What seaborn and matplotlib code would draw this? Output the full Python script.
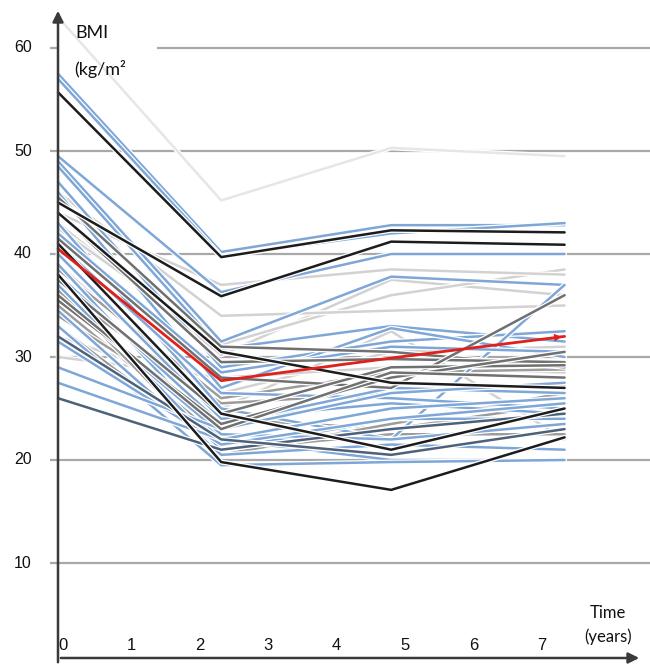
import numpy as np
import pandas as pd
import matplotlib
matplotlib.use("Agg")
import matplotlib.pyplot as plt
import matplotlib.patheffects as pe
import seaborn as sns

# time points of the visits (years)
times = [0, 2.4, 4.9, 7.45]

# BMI trajectories per patient, grouped by line colour
black_lines = [
    [55.7, 39.7, 42.3, 42.1],
    [45.0, 35.9, 41.2, 40.9],
    [44.0, 30.5, 27.5, 27.0],
    [38.0, 19.8, 17.1, 22.2],
    [41.0, 24.5, 21.0, 25.0],
]
blue_lines = [
    [57.5, 40.2, 42.8, 42.8],
    [57.0, 39.8, 42.0, 43.0],
    [49.5, 36.3, 40.0, 40.0],
    [49.0, 31.5, 37.8, 37.0],
    [48.5, 30.8, 33.0, 31.5],
    [47.0, 29.0, 31.5, 32.5],
    [46.0, 27.0, 32.8, 30.0],
    [43.0, 25.0, 22.0, 37.0],
    [42.0, 28.5, 31.0, 30.5],
    [41.0, 26.5, 26.0, 25.0],
    [40.0, 24.0, 25.5, 24.5],
    [39.0, 22.0, 20.0, 20.0],
    [38.0, 23.5, 27.0, 26.5],
    [37.0, 21.0, 24.0, 24.0],
    [36.0, 22.5, 22.0, 23.5],
    [34.5, 20.5, 21.5, 21.0],
    [33.0, 19.5, 19.8, 20.0],
    [31.5, 21.5, 24.0, 25.5],
    [29.0, 23.0, 26.5, 27.5],
    [27.5, 22.0, 25.0, 26.0],
]
slate_lines = [
    [26.0, 21.0, 23.0, 24.5],
    [32.0, 22.0, 20.5, 23.0],
]
darkgray_lines = [
    [45.5, 31.0, 30.5, 29.0],
    [44.0, 29.5, 29.8, 29.5],
    [41.5, 28.0, 27.0, 36.0],
    [37.5, 24.5, 29.0, 29.2],
    [35.5, 23.5, 28.0, 30.5],
    [36.0, 23.0, 28.5, 28.0],
]
gray_lines = [
    [38.5, 26.0, 28.5, 28.8],
    [36.5, 25.5, 26.5, 27.3],
    [35.0, 22.0, 25.0, 26.0],
    [34.0, 24.0, 23.0, 25.5],
    [33.0, 21.0, 22.5, 22.5],
    [36.5, 20.5, 23.5, 26.5],
]
lightgray_lines = [
    [43.0, 30.2, 37.5, 36.0],
    [42.5, 31.2, 36.0, 38.5],
    [46.0, 34.0, 34.5, 35.0],
    [44.0, 37.0, 38.5, 38.0],
    [39.0, 25.0, 32.5, 22.0],
    [32.0, 26.5, 30.5, 31.0],
    [30.0, 28.0, 29.0, 28.5],
]
faint_lines = [
    [63.0, 45.2, 50.3, 49.5],
]
mean_line = [40.5, 27.7, 29.9, 32.0]

y_ticks = [10, 20, 30, 40, 50, 60]
x_ticks = [0, 1, 2, 3, 4, 5, 6, 7]

groups = [
    (faint_lines, "#e6e6e6"),
    (lightgray_lines, "#d2d2d2"),
    (gray_lines, "#9c9c9c"),
    (blue_lines, "#7ea7d8"),
    (darkgray_lines, "#707070"),
    (slate_lines, "#4d6178"),
    (black_lines, "#1c1c1c"),
]

rows = []
palette = {}
pid = 0
for lines, col in groups:
    for vals in lines:
        for t, v in zip(times, vals):
            rows.append({"pid": pid, "time": t, "bmi": v})
        palette[pid] = col
        pid += 1
df = pd.DataFrame(rows)

# pixel -> data helpers (picture is 650 x 665)
def px_x(x):
    return (x - 58) / 68.0

def px_y(y):
    return 60 - (y - 48) / 10.3

sns.set_style("white")
fig = plt.figure(figsize=(6.5, 6.65), dpi=100)
ax = fig.add_axes([0, 0, 1, 1])
ax.set_xlim(px_x(0), px_x(650))
ax.set_ylim(px_y(665), px_y(0))
ax.axis("off")

# gridlines (the top one leaves room for the axis title) and small y ticks
grid_start = [0 if v < max(y_ticks) else px_x(157) for v in y_ticks]
ax.hlines(y_ticks, grid_start, px_x(650), color="#a8a8a8", lw=1.6, zorder=0)
ax.hlines(y_ticks, px_x(50), 0, color="#a8a8a8", lw=1.6, zorder=0)

sns.lineplot(data=df, x="time", y="bmi", hue="pid", units="pid", estimator=None,
             palette=palette, legend=False, lw=1.8, ax=ax, zorder=2)
for ln in ax.get_lines():
    ln.set_path_effects([pe.Stroke(linewidth=3.6, foreground="white"), pe.Normal()])

# mean trajectory in red
mean_df = pd.DataFrame({"time": times, "bmi": mean_line})
sns.lineplot(data=mean_df, x="time", y="bmi", color="#e0201b", lw=2.0, ax=ax, zorder=3)
slope = (mean_line[3] - mean_line[2]) / (times[3] - times[2])
ax.annotate("", xy=(times[3], mean_line[3]),
            xytext=(times[3] - 0.25, mean_line[3] - 0.25 * slope),
            arrowprops=dict(arrowstyle="-|>", color="#e0201b", lw=0, mutation_scale=14),
            zorder=4)

# axes with arrows
ax.annotate("", xy=(0, px_y(8)), xytext=(0, px_y(665)),
            arrowprops=dict(arrowstyle="-|>", color="#3a3a3a", lw=1.8, mutation_scale=16),
            zorder=5)
ax.annotate("", xy=(px_x(642), px_y(658)), xytext=(0, px_y(658)),
            arrowprops=dict(arrowstyle="-|>", color="#3a3a3a", lw=1.8, mutation_scale=16),
            zorder=5)

num_font = ["Liberation Sans", "DejaVu Sans"]
lab_font = ["Lato", "DejaVu Sans"]

for v in y_ticks:
    ax.text(px_x(23), v, str(v), ha="center", va="center", fontsize=11.5,
            family=num_font, color="#111111")
for k in x_ticks:
    ax.text(px_x(63 + 68.4 * k), px_y(650), str(k), ha="center", va="baseline",
            fontsize=12, family=num_font, color="#111111")

ax.text(px_x(75), px_y(33), "BMI", ha="left", va="center", fontsize=13,
        family=lab_font, color="#111111", zorder=6)
ax.text(px_x(74), px_y(69), "(kg/m\u00b2", ha="left", va="center", fontsize=13,
        family=lab_font, color="#111111", zorder=6)
ax.text(px_x(608), px_y(625), "Time\n(years)", ha="center", va="center", fontsize=12,
        family=lab_font, color="#111111", linespacing=1.5, zorder=6)

fig.savefig("out.png", dpi=100)
